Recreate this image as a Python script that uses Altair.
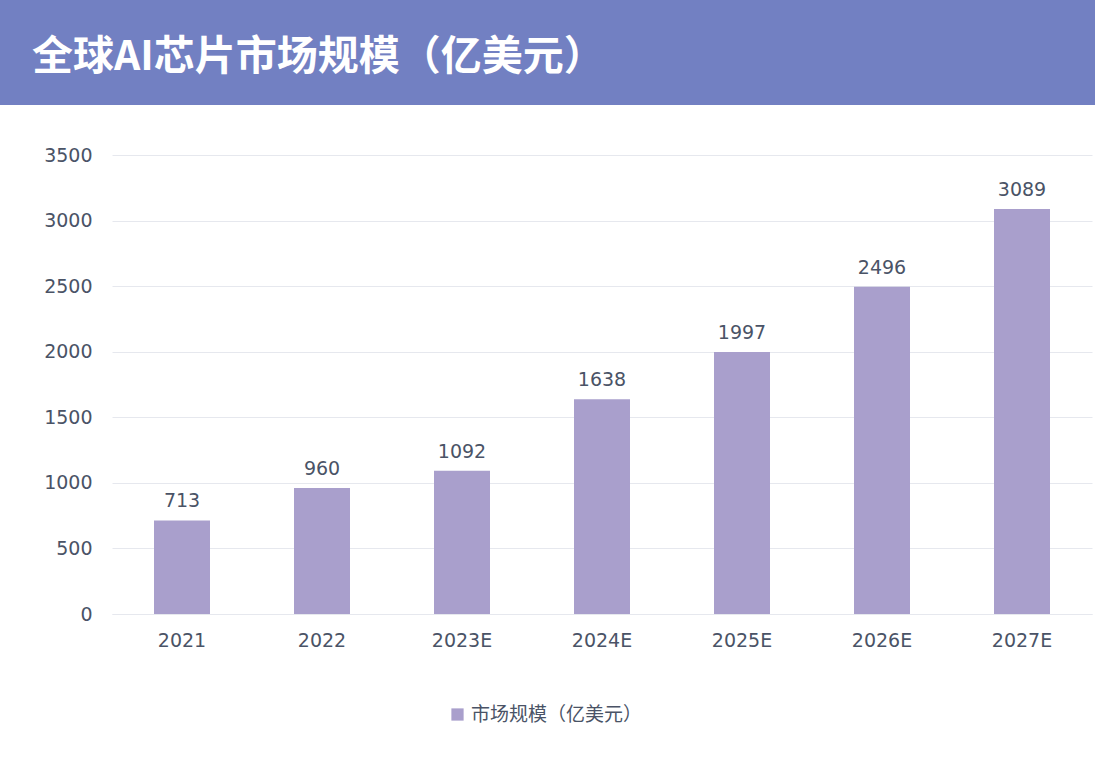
import altair as alt
import pandas as pd

years = ["2021", "2022", "2023E", "2024E", "2025E", "2026E", "2027E"]
market_size = [713, 960, 1092, 1638, 1997, 2496, 3089]
series_name = "市场规模（亿美元）"
chart_title = "全球AI芯片市场规模（亿美元）"

df = pd.DataFrame({"year": years, "value": market_size, "series": series_name})

BAR = "#A99FCC"
HEADER = "#7280C2"
TEXT = "#4A5366"
GRID = "#E6E8EE"
FONT = "DejaVu Sans"
CJK = "Noto Sans CJK SC"

W, H = 980, 459
PAD_L, PAD_T = 112, 155

x = alt.X("year:N", sort=years, title=None,
          scale=alt.Scale(paddingInner=0.6, paddingOuter=0.3),
          axis=alt.Axis(labelAngle=0, labelFont=FONT, labelFontSize=19,
                        labelColor=TEXT, labelPadding=17, ticks=False,
                        domain=True, domainColor=GRID, grid=False))
y = alt.Y("value:Q", title=None,
          scale=alt.Scale(domain=[0, 3500]),
          axis=alt.Axis(values=list(range(0, 3501, 500)), format="d",
                        labelFont=FONT, labelFontSize=19, labelColor=TEXT,
                        labelPadding=20, ticks=False, domain=False,
                        gridColor=GRID))

bars = alt.Chart(df).mark_bar(color=BAR).encode(
    x=x, y=y,
    color=alt.Color("series:N", scale=alt.Scale(range=[BAR]),
                    legend=alt.Legend(title=None, orient="none",
                                      legendX=336, legendY=550,
                                      symbolType="square", symbolSize=150,
                                      symbolStrokeWidth=0, labelLimit=0,
                                      labelFont=CJK, labelFontSize=19,
                                      labelColor=TEXT, labelOffset=4)),
)

labels = alt.Chart(df).mark_text(baseline="bottom", dy=-9, font=FONT,
                                 fontSize=19, color=TEXT).encode(
    x=alt.X("year:N", sort=years), y="value:Q", text="value:Q")

header_df = pd.DataFrame({"t": [chart_title]})
header = alt.Chart(header_df).mark_rect(color=HEADER).encode(
    x=alt.value(-PAD_L), x2=alt.value(983),
    y=alt.value(-PAD_T), y2=alt.value(-50))
title_text = alt.Chart(header_df).mark_text(
    align="left", baseline="middle", font=CJK, fontSize=41,
    fontWeight="bold", color="white").encode(
    x=alt.value(32 - PAD_L), y=alt.value(58 - PAD_T), text="t:N")

chart = alt.layer(bars, labels, header, title_text).properties(
    width=W, height=H,
    autosize=alt.AutoSizeParams(type="none"),
    padding={"left": PAD_L, "top": PAD_T, "right": 1099 - PAD_L - W,
             "bottom": 759 - PAD_T - H},
    background="white",
).configure_view(stroke=None)

chart.save("out.html", embed_options={"renderer": "svg", "actions": False})
